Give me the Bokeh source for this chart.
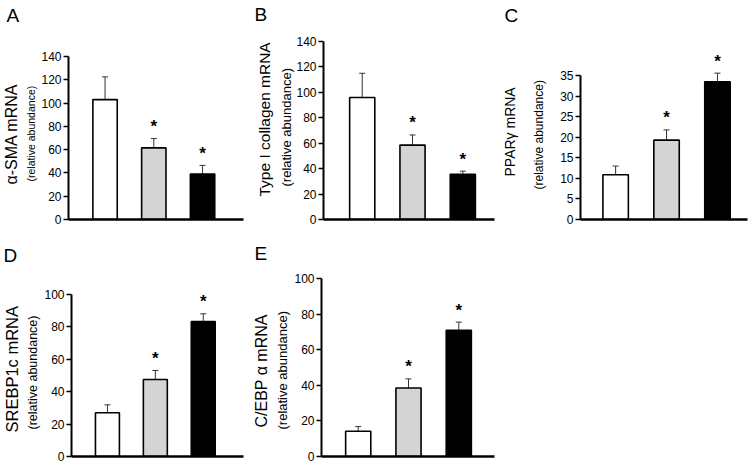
from bokeh.plotting import figure
from bokeh.layouts import column, row
from bokeh.models import (Range1d, FixedTicker, Title, Whisker, TeeHead,
                          ColumnDataSource, LinearAxis)
from bokeh.core.properties import value
from bokeh.embed import file_html
from bokeh.resources import INLINE

FONT = "Liberation Sans"

# ---- data -------------------------------------------------------------
groups = [1, 2, 3]
fills = ["white", "#d4d4d4", "black"]
significant = [False, True, True]

a_mean = [103, 61.5, 39]
a_sem = [19.5, 8, 7.5]
a_ticks = [0, 20, 40, 60, 80, 100, 120, 140]

b_mean = [96, 58.5, 35.5]
b_sem = [19, 8, 2.5]
b_ticks = [0, 20, 40, 60, 80, 100, 120, 140]

c_mean = [10.9, 19.3, 33.5]
c_sem = [2.1, 2.5, 2.1]
c_ticks = [0, 5, 10, 15, 20, 25, 30, 35]

d_mean = [27, 47.5, 83.3]
d_sem = [4.9, 5.6, 4.8]
d_ticks = [0, 20, 40, 60, 80, 100]

e_mean = [14.2, 38.5, 70.9]
e_sem = [2.6, 5.1, 4.6]
e_ticks = [0, 20, 40, 60, 80, 100]


def panel(letter, ylabel, means, sems, ticks, ymax, xr, w, h, mb,
          big_size, small_size, big_off, small_off, big_sd, small_sd,
          letter_off, letter_gap):
    p = figure(width=w, height=h, x_range=Range1d(*xr), y_range=Range1d(0, ymax),
               output_backend="svg", toolbar_location=None,
               min_border_left=mb[0], min_border_right=mb[1],
               min_border_top=mb[2], min_border_bottom=mb[3])
    p.grid.visible = False
    p.outline_line_color = None
    p.background_fill_color = "white"
    p.border_fill_color = "white"

    up = [m + s for m, s in zip(means, sems)]
    src = ColumnDataSource(dict(x=groups, mean=means, up=up, fill=fills))
    p.vbar(x="x", top="mean", bottom=0, width=0.5, source=src,
           fill_color="fill", line_color="black", line_width=1.6)
    p.add_layout(Whisker(source=src, base="x", lower="mean", upper="up",
                         line_color="#333333", line_width=1,
                         upper_head=TeeHead(size=6, line_color="#333333", line_width=1),
                         lower_head=None))
    sx = [g for g, s in zip(groups, significant) if s]
    sy = [u for u, s in zip(up, significant) if s]
    p.text(x=sx, y=sy, text=["*"] * len(sx), text_align="center",
           text_baseline="alphabetic", y_offset=-12,
           text_font=value(FONT), text_font_size="17px", text_font_style="bold",
           text_color="black")

    xa = p.xaxis[0]
    xa.ticker = FixedTicker(ticks=[])
    xa.major_tick_line_color = None
    xa.minor_tick_line_color = None
    xa.major_label_text_font_size = "0px"
    xa.major_label_standoff = 0
    xa.axis_line_width = 2.5
    xa.axis_line_color = "black"

    ya = p.yaxis[0]
    ya.ticker = FixedTicker(ticks=ticks)
    ya.bounds = (0, ticks[-1])
    ya.minor_tick_line_color = None
    ya.major_tick_in = 0
    ya.major_tick_out = 5
    ya.major_tick_line_width = 1.5
    ya.axis_line_width = 2
    ya.axis_line_color = "black"
    ya.major_label_text_font = FONT
    ya.major_label_text_font_size = "12px"
    ya.major_label_text_color = "black"
    ya.major_label_standoff = 2

    p.add_layout(Title(text="(relative abundance)", align="left", offset=small_off,
                       standoff=small_sd, text_font=FONT, text_font_size=small_size,
                       text_font_style="normal", text_color="black"), "left")
    p.add_layout(Title(text=ylabel, align="left", offset=big_off,
                       standoff=big_sd, text_font=FONT, text_font_size=big_size,
                       text_font_style="normal", text_color="black"), "left")

    # blank axis above the frame: white tick only reserves the gap under the panel letter
    spacer = LinearAxis(ticker=FixedTicker(ticks=[groups[1]]), axis_line_color=None,
                        major_tick_line_color="white", minor_tick_line_color=None,
                        major_tick_in=0, major_tick_out=letter_gap, minor_tick_out=0,
                        major_label_text_font_size="0px", major_label_text_color=None,
                        major_label_standoff=0)
    p.add_layout(spacer, "above")
    p.add_layout(Title(text=letter, align="left", vertical_align="bottom",
                       offset=letter_off, standoff=0,
                       text_font=FONT, text_font_size="19px",
                       text_font_style="normal", text_color="black"), "above")
    return p


pA = panel("A", "α-SMA mRNA", a_mean, a_sem, a_ticks, 152.9, (0.25, 3.84),
           249, 235, (68, 6, 41, 16), "16px", "10.5px", 35, 38, 1, 4, -62, 16)
pB = panel("B", "Type I collagen mRNA", b_mean, b_sem, b_ticks, 140, (0.23, 3.63),
           250, 235, (72, 5, 41, 16), "15.5px", "13px", 23, 33, 8, 0, -69, 17)
pC = panel("C", "PPARγ mRNA", c_mean, c_sem, c_ticks, 43.3, (0.31, 3.59),
           249, 235, (77, 1, 41, 16), "14px", "12px", 43, 30, 0, 24, -76, 16)
pD = panel("D", "SREBP1c mRNA", d_mean, d_sem, d_ticks, 109.9, (0.25, 3.84),
           249, 232, (68, 6, 43, 11), "16.5px", "12.5px", 24, 27, 1, 4, -68, 13)
pE = panel("E", "C/EBP α mRNA", e_mean, e_sem, e_ticks, 100, (0.27, 3.71),
           250, 232, (72, 5, 43, 11), "16px", "13px", 29, 27, 1, 4, -67, 15)

layout = column(row(pA, pB, pC), row(pD, pE))
open("out.html", "w").write(file_html(layout, INLINE))
